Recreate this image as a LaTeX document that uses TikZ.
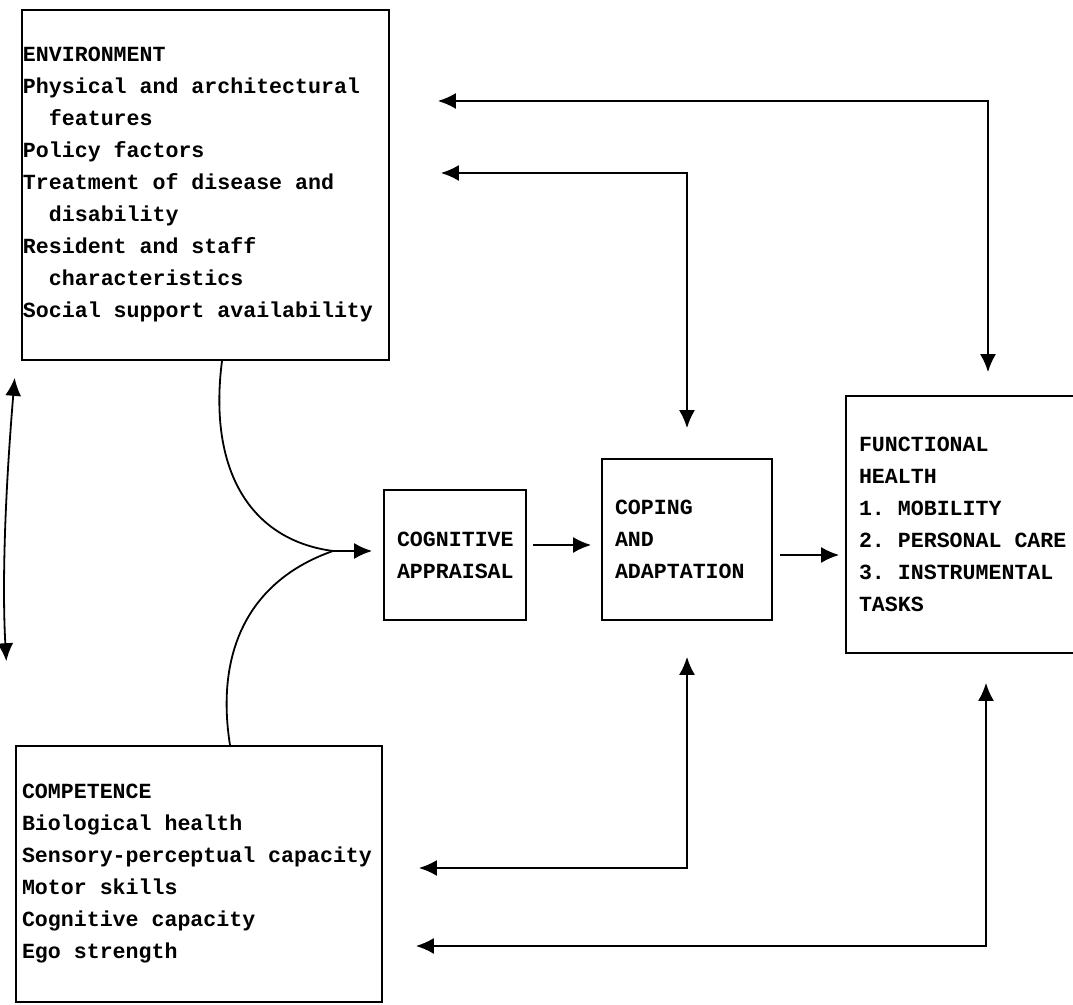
\documentclass[tikz,border=0pt]{standalone}
\usepackage{fontspec}
\newfontfamily\typewriter{Liberation Mono}[WordSpace={1,0,0}]
\DeclareRobustCommand\boxfont{\typewriter\bfseries\fontsize{10.8pt}{16pt}\selectfont}
\usetikzlibrary{arrows.meta}

\begin{document}
\begin{tikzpicture}[x=0.5pt,y=-0.5pt,>={Latex[length=9pt,width=8pt]},line width=0.9pt,
  block node/.style={draw,rectangle,align=left,inner ysep=0pt,font=\boxfont,execute at begin node=\spaceskip0.6em\xspaceskip0.6em\relax}]
  \useasboundingbox (0,0) rectangle (1073,1005);
  \clip (0,0) rectangle (1073,1005);

  \node[block node,inner xsep=0.5pt,text width=182.5pt,minimum height=175pt] (env) at (205.5,185) {ENVIRONMENT\\Physical and architectural\\\phantom{xx}features\\Policy factors\\Treatment of disease and\\\phantom{xx}disability\\Resident and staff\\\phantom{xx}characteristics\\Social support availability};
  \node[block node,inner xsep=3pt,text width=177pt,minimum height=128pt] (comp) at (199,874) {COMPETENCE\\Biological health\\Sensory-perceptual capacity\\Motor skills\\Cognitive capacity\\Ego strength};
  \node[block node,inner xsep=6.5pt,text width=58pt,minimum height=65pt] (cog) at (455,555) {COGNITIVE\\APPRAISAL};
  \node[block node,inner xsep=6.5pt,text width=72pt,minimum height=80.5pt] (cop) at (687,539.5) {COPING\\AND\\ADAPTATION};
  \node[block node,inner xsep=6.5pt,text width=109pt,minimum height=128.5pt] (func) at (968,524.5) {FUNCTIONAL\\HEALTH\\1. MOBILITY\\2. PERSONAL CARE\\3. INSTRUMENTAL\\TASKS};

  \coordinate (join) at (333,551);
  \draw ([xshift=8.25pt]env.south) .. controls (208,470) and (250,540) .. (join);
  \draw ([xshift=15.5pt]comp.north) .. controls (215,650) and (250,580) .. (join);
  \draw[->,shorten >=5.5pt] (join) -- (join -| cog.west);
  \draw[->,shorten <=3pt,shorten >=5pt] ([yshift=5pt]cog.east) -- ([yshift=5pt]cog.east -| cop.west);
  \draw[->,shorten <=3.5pt,shorten >=3pt] ([yshift=-7.75pt]cop.east) -- ([yshift=-7.75pt]cop.east -| func.west);

  % feedback loops
  \draw[<->,shorten <=24pt,shorten >=11.5pt] (env.east |- 0,101) -| ([xshift=10pt]func.north);
  \draw[<->,shorten <=25.5pt,shorten >=15pt] (env.east |- 0,173) -| (cop.north);
  \draw[<->,shorten <=18pt,shorten >=18pt] (comp.east |- 0,868) -| (cop.south);
  \draw[<->,shorten <=16.5pt,shorten >=14.5pt] (comp.east |- 0,946) -| ([xshift=9pt]func.south);
  \draw[<->,shorten <=8.5pt,shorten >=42pt] ([xshift=-2.5pt]env.south west) to[bend right=4] ([xshift=-2pt]comp.north west);
\end{tikzpicture}
\end{document}
